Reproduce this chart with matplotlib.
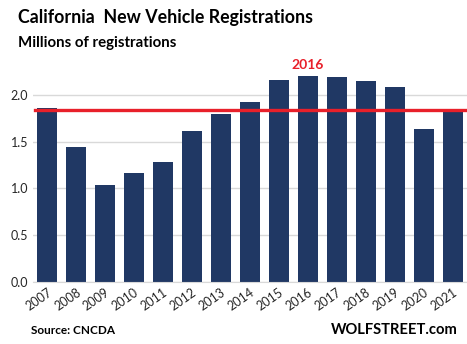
import matplotlib
matplotlib.use("Agg")
import matplotlib.pyplot as plt

years = ["2007", "2008", "2009", "2010", "2011", "2012", "2013", "2014",
         "2015", "2016", "2017", "2018", "2019", "2020", "2021"]
registrations = [1.86, 1.44, 1.04, 1.17, 1.28, 1.62, 1.80, 1.93,
                 2.16, 2.20, 2.19, 2.15, 2.09, 1.64, 1.84]
ref_level = 1.84
ref_label = "2016"
y_ticks = [0.0, 0.5, 1.0, 1.5, 2.0]

FONT = "Lato"
fig = plt.figure(figsize=(4.67, 3.44), dpi=100)
ax = fig.add_axes([0.0696, 0.181, 0.9304, 0.651])

x = list(range(len(years)))
ax.bar(x, registrations, width=0.69, color="#203864", zorder=2)
ax.axhline(ref_level, xmin=0.006, xmax=1.0, color="#E8202A", linewidth=2.4, zorder=3)
ax.text(years.index(ref_label), 2.26, ref_label, color="#E8202A", ha="center", va="bottom",
        fontsize=10, fontweight="bold", family=FONT)

ax.set_xlim(-0.5, len(years) - 0.5)
ax.set_ylim(0, 2.4)
ax.set_yticks(y_ticks)
ax.set_yticklabels([f"{v:.1f}" for v in y_ticks], fontsize=9, family=FONT, color="#262626")
ax.set_xticks(x)
ax.set_xticklabels(years, rotation=35, ha="right", rotation_mode="anchor",
                   fontsize=9, family=FONT, color="#262626")
ax.tick_params(axis="both", length=0, pad=3)
ax.grid(axis="y", color="#D9D9D9", linewidth=1, zorder=0)
for s in ["top", "right", "left"]:
    ax.spines[s].set_visible(False)
ax.spines["bottom"].set_color("#D9D9D9")

fig.text(0.038, 0.95, "California  New Vehicle Registrations", fontsize=12.8,
         fontweight="bold", family=FONT, va="center", ha="left")
fig.text(0.038, 0.875, "Millions of registrations", fontsize=10.8,
         fontweight="bold", family=FONT, va="center", ha="left")
fig.text(0.066, 0.04, "Source: CNCDA", fontsize=8.5, fontweight="bold",
         family=FONT, va="center", ha="left")
fig.text(0.98, 0.04, "WOLFSTREET.com", fontsize=10.6, fontweight="bold",
         family=FONT, va="center", ha="right")

fig.savefig("out.png", dpi=100)
